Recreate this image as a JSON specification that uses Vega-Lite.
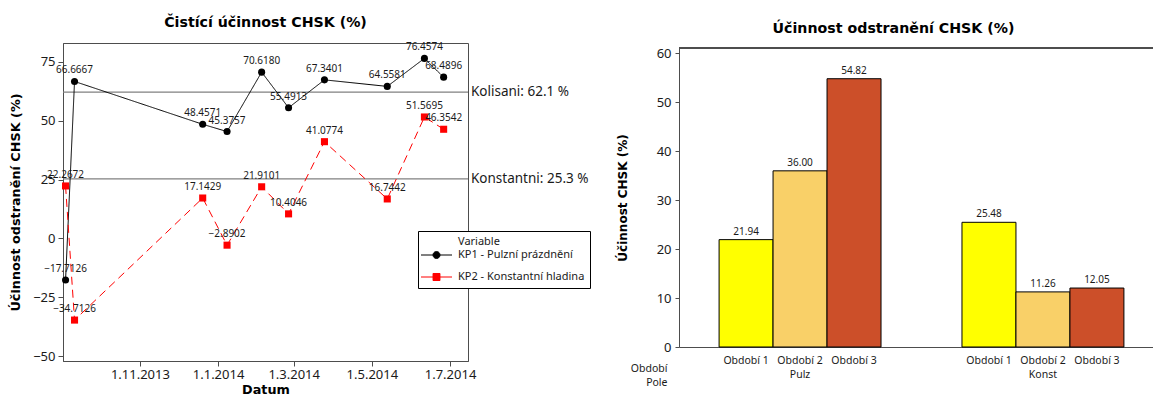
{
  "$schema": "https://vega.github.io/schema/vega-lite/v6.json",
  "background": "white",
  "padding": {"left": 9, "top": 15, "right": 0, "bottom": 0},
  "config": {
    "font": "Noto Sans",
    "view": {"stroke": "#4d4d4d", "strokeWidth": 1},
    "axis": {"grid": false, "domainColor": "#4d4d4d", "tickColor": "#4d4d4d", "labelColor": "#1a1a1a", "titleColor": "#000000", "labelFontSize": 13, "titleFont": "DejaVu Sans", "titleFontSize": 12.8, "titleFontWeight": "bold"},
    "title": {"font": "DejaVu Sans", "fontWeight": "bold", "fontSize": 14.2, "color": "#000000", "offset": 12}
  },
  "resolve": {"scale": {"color": "independent"}, "legend": {"color": "independent"}},
  "spacing": 25,
  "hconcat": [
    {
      "width": 405,
      "height": 318,
      "title": {"text": "Čistící účinnost CHSK (%)"},
      "data": {"values": [
        {"datum": "2013-09-04T00:00", "variable": "KP1 - Pulzní prázdnění", "value": -17.7126},
        {"datum": "2013-09-11T00:00", "variable": "KP1 - Pulzní prázdnění", "value": 66.6667},
        {"datum": "2013-12-20T00:00", "variable": "KP1 - Pulzní prázdnění", "value": 48.4571},
        {"datum": "2014-01-08T00:00", "variable": "KP1 - Pulzní prázdnění", "value": 45.3757},
        {"datum": "2014-02-04T00:00", "variable": "KP1 - Pulzní prázdnění", "value": 70.618},
        {"datum": "2014-02-25T00:00", "variable": "KP1 - Pulzní prázdnění", "value": 55.4913},
        {"datum": "2014-03-25T00:00", "variable": "KP1 - Pulzní prázdnění", "value": 67.3401},
        {"datum": "2014-05-13T00:00", "variable": "KP1 - Pulzní prázdnění", "value": 64.5581},
        {"datum": "2014-06-11T00:00", "variable": "KP1 - Pulzní prázdnění", "value": 76.4574},
        {"datum": "2014-06-26T00:00", "variable": "KP1 - Pulzní prázdnění", "value": 68.4896},
        {"datum": "2013-09-04T00:00", "variable": "KP2 - Konstantní hladina", "value": 22.2672},
        {"datum": "2013-09-11T00:00", "variable": "KP2 - Konstantní hladina", "value": -34.7126},
        {"datum": "2013-12-20T00:00", "variable": "KP2 - Konstantní hladina", "value": 17.1429},
        {"datum": "2014-01-08T00:00", "variable": "KP2 - Konstantní hladina", "value": -2.8902},
        {"datum": "2014-02-04T00:00", "variable": "KP2 - Konstantní hladina", "value": 21.9101},
        {"datum": "2014-02-25T00:00", "variable": "KP2 - Konstantní hladina", "value": 10.4046},
        {"datum": "2014-03-25T00:00", "variable": "KP2 - Konstantní hladina", "value": 41.0774},
        {"datum": "2014-05-13T00:00", "variable": "KP2 - Konstantní hladina", "value": 16.7442},
        {"datum": "2014-06-11T00:00", "variable": "KP2 - Konstantní hladina", "value": 51.5695},
        {"datum": "2014-06-26T00:00", "variable": "KP2 - Konstantní hladina", "value": 46.3542}
      ]},
      "layer": [
        {
          "data": {"values": [{"ref": 62.1, "label": "Kolisani: 62.1 %"}, {"ref": 25.3, "label": "Konstantni: 25.3 %"}]},
          "mark": {"type": "rule", "color": "#808080", "strokeWidth": 1.3},
          "encoding": {
            "y": {"field": "ref", "type": "quantitative", "scale": {"domain": [-52.1, 83], "nice": false, "zero": false}, "axis": {"title": "Účinnost odstranění CHSK (%)", "values": [-50, -25, 0, 25, 50, 75], "tickSize": 5, "labelPadding": 3, "titlePadding": 10}}
          }
        },
        {
          "data": {"values": [{"ref": 62.1, "label": "Kolisani: 62.1 %"}, {"ref": 25.3, "label": "Konstantni: 25.3 %"}]},
          "mark": {"type": "text", "align": "left", "baseline": "middle", "dx": 3, "fontSize": 13.5, "color": "#1a1a1a"},
          "encoding": {
            "x": {"datum": {"year": 2014, "month": 7, "date": 15}, "type": "temporal"},
            "y": {"field": "ref", "type": "quantitative", "axis": {"title": "Účinnost odstranění CHSK (%)"}},
            "text": {"field": "label"}
          }
        },
        {
          "mark": {"type": "line", "strokeWidth": 1},
          "encoding": {
            "x": {"field": "datum", "type": "temporal", "scale": {"domain": [{"year": 2013, "month": 9, "date": 2}, {"year": 2014, "month": 7, "date": 15}]}, "axis": {"title": "Datum", "format": "%-d.%-m.%Y", "values": [{"year": 2013, "month": 11, "date": 1}, {"year": 2014, "month": 1, "date": 1}, {"year": 2014, "month": 3, "date": 1}, {"year": 2014, "month": 5, "date": 1}, {"year": 2014, "month": 7, "date": 1}], "tickSize": 5, "labelPadding": 2, "titlePadding": 2}},
            "y": {"field": "value", "type": "quantitative", "axis": {"title": "Účinnost odstranění CHSK (%)"}},
            "color": {"field": "variable", "type": "nominal", "scale": {"domain": ["KP1 - Pulzní prázdnění", "KP2 - Konstantní hladina"], "range": ["#000000", "#ff0000"]}},
            "strokeDash": {"field": "variable", "type": "nominal", "scale": {"domain": ["KP1 - Pulzní prázdnění", "KP2 - Konstantní hladina"], "range": [[1, 0], [8, 5]]}}
          }
        },
        {
          "mark": {"type": "point", "filled": true, "size": 50, "opacity": 1},
          "encoding": {
            "x": {"field": "datum", "type": "temporal", "title": "Datum"},
            "y": {"field": "value", "type": "quantitative", "axis": {"title": "Účinnost odstranění CHSK (%)"}},
            "shape": {"field": "variable", "type": "nominal", "scale": {"domain": ["KP1 - Pulzní prázdnění", "KP2 - Konstantní hladina"], "range": ["circle", "square"]}},
            "color": {"field": "variable", "type": "nominal", "legend": {
              "title": "Variable", "orient": "none", "legendX": 355, "legendY": 188,
              "strokeColor": "#000000", "fillColor": "#ffffff", "padding": 5,
              "titleFontWeight": "normal", "titleFontSize": 11, "titleColor": "#1a1a1a", "titlePadding": -8,
              "labelFontSize": 11, "labelColor": "#1a1a1a", "labelOffset": 5.5, "rowPadding": -10,
              "symbolSize": 100, "symbolOffset": -2.5, "symbolStrokeWidth": 1, "symbolType": "M-1,0H1",
              "encoding": {
                "symbols": {
                  "shape": {"value": {"expr": "datum.value == 'KP1 - Pulzní prázdnění' ? 'M-1,0H1M0.226,0A0.226,0.226,0,1,1,-0.226,0A0.226,0.226,0,1,1,0.226,0Z' : 'M-1,0H1M-0.226,-0.226H0.226V0.226H-0.226Z'"}},
                  "fill": {"value": {"expr": "datum.value == 'KP1 - Pulzní prázdnění' ? '#000000' : '#ff0000'"}},
                  "stroke": {"value": {"expr": "datum.value == 'KP1 - Pulzní prázdnění' ? '#000000' : '#ff0000'"}},
                  "strokeDash": {"value": [1, 0]},
                  "strokeWidth": {"value": 1},
                  "opacity": {"value": 1},
                  "fillOpacity": {"value": 1},
                  "size": {"value": 961}
                },
                "title": {"dx": {"value": 35}}
              }
            }}
          }
        },
        {
          "mark": {"type": "text", "baseline": "middle", "dy": -11, "fontSize": 10, "color": "#1a1a1a"},
          "encoding": {
            "x": {"field": "datum", "type": "temporal", "title": "Datum"},
            "y": {"field": "value", "type": "quantitative", "axis": {"title": "Účinnost odstranění CHSK (%)"}},
            "text": {"field": "value", "type": "quantitative", "format": ".4f"}
          }
        }
      ]
    },
    {
      "width": 485,
      "height": 304,
      "view": {"stroke": null},
      "title": {"text": "Účinnost odstranění CHSK (%)", "dx": -28, "offset": 7},
      "data": {"values": [
        {"pole": "Pulz", "obdobi": "Období 1", "value": 21.94},
        {"pole": "Pulz", "obdobi": "Období 2", "value": 36.0},
        {"pole": "Pulz", "obdobi": "Období 3", "value": 54.82},
        {"pole": "Konst", "obdobi": "Období 1", "value": 25.48},
        {"pole": "Konst", "obdobi": "Období 2", "value": 11.26},
        {"pole": "Konst", "obdobi": "Období 3", "value": 12.05}
      ]},
      "layer": [
        {
          "mark": {"type": "bar", "stroke": "#000000", "strokeWidth": 1},
          "encoding": {
            "x": {"field": "pole", "type": "nominal", "sort": ["Pulz", "Konst"], "scale": {"paddingInner": 0.3333, "paddingOuter": 0.165},
              "axis": {"title": ["Období", "Pole"], "titleFont": "Noto Sans", "titleAngle": 0, "titleAlign": "right", "titleBaseline": "middle", "titleX": -12, "titleY": 21, "titleFontWeight": "normal", "titleFontSize": 10.5, "titleLineHeight": 14, "titleColor": "#1a1a1a", "labelAngle": 0, "labelFontSize": 10.5, "ticks": false, "labelPadding": 22}},
            "xOffset": {"field": "obdobi", "type": "nominal", "sort": ["Období 1", "Období 2", "Období 3"], "scale": {"paddingInner": 0, "paddingOuter": 0}},
            "y": {"field": "value", "type": "quantitative", "scale": {"domain": [0, 61.1], "nice": false, "range": [304, 5]}, "axis": {"title": "Účinnost CHSK (%)", "titleFontSize": 12, "values": [0, 10, 20, 30, 40, 50, 60], "tickSize": 4, "labelPadding": 4, "titlePadding": 27}},
            "color": {"field": "obdobi", "type": "nominal", "scale": {"domain": ["Období 1", "Období 2", "Období 3"], "range": ["#ffff00", "#f9d068", "#cc4f29"]}, "legend": null}
          }
        },
        {
          "mark": {"type": "rule", "color": "#4d4d4d", "strokeWidth": 1},
          "encoding": {
            "y": {"datum": 61.1}
          }
        },
        {
          "mark": {"type": "text", "baseline": "bottom", "dy": -3, "fontSize": 10, "color": "#1a1a1a"},
          "encoding": {
            "x": {"field": "pole", "type": "nominal", "sort": ["Pulz", "Konst"]},
            "xOffset": {"field": "obdobi", "type": "nominal", "sort": ["Období 1", "Období 2", "Období 3"]},
            "y": {"field": "value", "type": "quantitative", "axis": {"title": "Účinnost CHSK (%)"}},
            "text": {"field": "value", "type": "quantitative", "format": ".2f"}
          }
        },
        {
          "mark": {"type": "text", "baseline": "middle", "dy": 14, "fontSize": 10.5, "color": "#1a1a1a"},
          "encoding": {
            "x": {"field": "pole", "type": "nominal", "sort": ["Pulz", "Konst"]},
            "xOffset": {"field": "obdobi", "type": "nominal", "sort": ["Období 1", "Období 2", "Období 3"]},
            "y": {"datum": 0},
            "text": {"field": "obdobi"}
          }
        }
      ]
    }
  ]
}
